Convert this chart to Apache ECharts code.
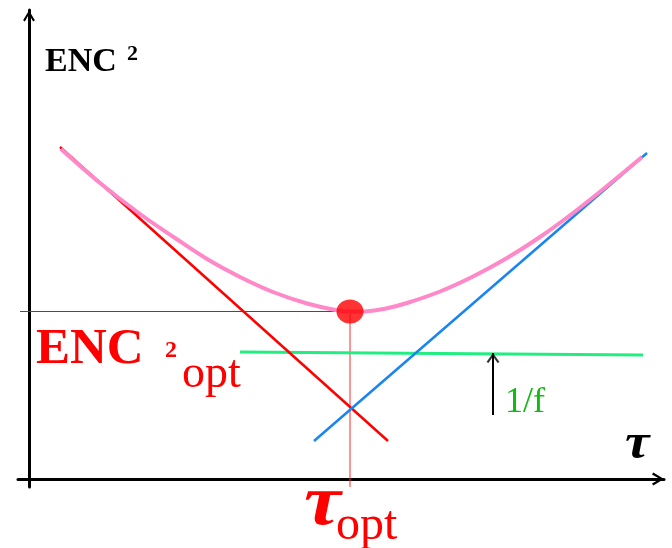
<!DOCTYPE html>
<html>
<head>
<meta charset="utf-8">
<script src="https://cdn.jsdelivr.net/npm/echarts@6/dist/echarts.min.js"></script>
<style>
  html, body { margin: 0; padding: 0; background: #fff; }
  #chart { width: 672px; height: 548px; }
</style>
</head>
<body>
<div id="chart"></div>
<script>
// Noise contributions versus shaping time τ (arbitrary units)
const seriesNoise   = [[3.1, 33.2], [35.9, 3.8]];      // falls with τ
const parallelNoise = [[28.5, 3.8], [61.8, 32.6]];     // rises with τ
const flickerNoise  = [[21.1, 12.7], [61.4, 12.4]];    // 1/f floor
const totalNoise = [
  [3.2, 33.0], [7.1, 29.6], [11.1, 26.5], [14.6, 24.1], [17.8, 22.0],
  [21.1, 20.2], [24.4, 18.7], [27.8, 17.55], [30.8, 16.88], [32.1, 16.74],
  [33.6, 16.76], [35.6, 17.02], [37.8, 17.6], [41.1, 18.75], [44.4, 20.25],
  [47.8, 22.1], [51.1, 24.2], [54.4, 26.6], [57.8, 29.3], [61.3, 32.2]
];
const optimum = [32.1, 16.75];                          // τ_opt, ENC²_opt
const flickerArrow = [[46.4, 6.4], [46.4, 12.6]];
const tauRange = [-1.1, 63.5];
const encRange = [-0.8, 46.9];
const guideStartTau = -0.9;

const serif = '"Liberation Serif", "Times New Roman", serif';
const chevron = 'path://M0,10 L6,0 L12,10 L10.2,11.2 L6,3.8 L1.8,11.2 Z';

const chart = echarts.init(document.getElementById('chart'), null, { renderer: 'canvas' });

function axisCommon(range, arrowSize) {
  return {
    type: 'value',
    min: range[0],
    max: range[1],
    axisLine: {
      show: true,
      onZero: true,
      symbol: ['none', chevron],
      symbolSize: arrowSize,
      symbolOffset: [0, -6],
      lineStyle: { color: '#000', width: 3 }
    },
    axisTick: { show: false },
    axisLabel: { show: false },
    splitLine: { show: false }
  };
}

function plainLine(data, color, width, z) {
  return {
    type: 'line', data: data, z: z,
    symbol: 'none', showSymbol: false, silent: true,
    lineStyle: { color: color, width: width },
    emphasis: { disabled: true }
  };
}

const totalLine = plainLine(totalNoise, '#ff88c8', 4, 4);
totalLine.smooth = 0.35;

function label(text, x, y, size, color, opts) {
  const style = Object.assign({
    text: text, fontFamily: serif, fontSize: size, fill: color,
    textAlign: 'left', textVerticalAlign: 'middle'
  }, opts || {});
  return { type: 'text', x: x, y: y, style: style, silent: true };
}

const tauOptSymbol = label('τ', 304, 505, 72, '#ff0000', { fontStyle: 'italic', fontWeight: 'bold' });
tauOptSymbol.scaleX = 1.15;
const tauAxisSymbol = label('τ', 625, 445, 50, '#000', { fontStyle: 'italic', fontWeight: 'bold' });
tauAxisSymbol.scaleX = 1.1;

chart.setOption({
  animation: false,
  grid: { left: 18, right: 8, top: 10, bottom: 61 },
  xAxis: axisCommon(tauRange, [18, 12]),
  yAxis: axisCommon(encRange, [14, 11]),
  series: [
    plainLine([[guideStartTau, optimum[1]], optimum], '#ff0000', 1.2, 1),
    plainLine([optimum, [optimum[0], encRange[0]]], '#ff2a2a', 1, 1),
    plainLine(flickerNoise, '#20ee80', 3, 2),
    plainLine(seriesNoise, '#ff0000', 2.5, 3),
    plainLine(parallelNoise, '#1a85f0', 2.5, 3),
    totalLine,
    plainLine(flickerArrow, '#000', 2, 5),
    {
      type: 'scatter', data: [flickerArrow[1]], z: 5, silent: true,
      symbol: chevron, symbolSize: [13, 10], symbolOffset: [0, '50%'],
      itemStyle: { color: '#000' }
    },
    {
      type: 'scatter', data: [optimum], z: 10, silent: true,
      symbol: 'circle', symbolSize: [27, 24],
      itemStyle: { color: '#ff0000' }
    }
  ],
  graphic: [
    label('ENC', 45, 62, 34, '#000', { fontWeight: 'bold' }),
    label('2', 127, 54.5, 22, '#000', { fontWeight: 'bold' }),
    label('ENC', 36, 350, 51, '#ff0000', { fontWeight: 'bold' }),
    label('2', 165, 351, 24, '#ff0000', { fontWeight: 'bold' }),
    label('opt', 182, 375, 46, '#ff0000'),
    label('1/f', 505, 403, 36, '#11bb11'),
    tauAxisSymbol,
    tauOptSymbol,
    label('opt', 336, 526, 48, '#ff0000')
  ]
});
</script>
</body>
</html>
